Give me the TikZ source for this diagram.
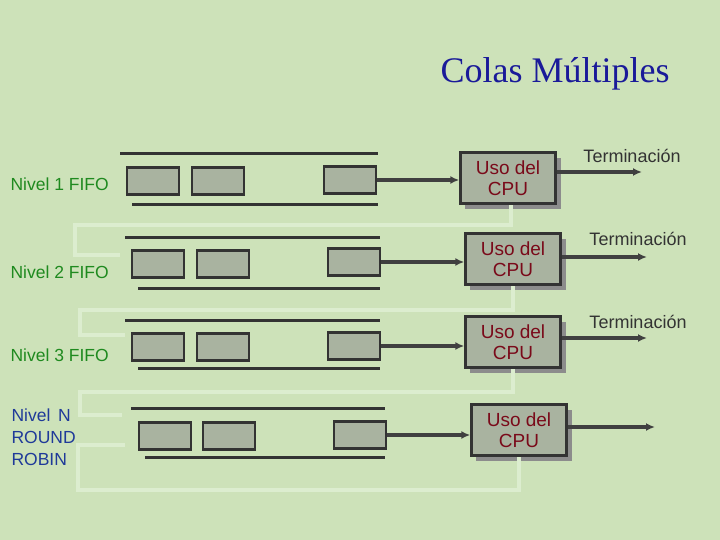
\documentclass[tikz,border=0pt]{standalone}
\usepackage{fontspec}
\setmainfont{Liberation Serif}
\setsansfont{Liberation Sans}
\usetikzlibrary{arrows.meta}
\definecolor{bg}{HTML}{CDE2B9}
\definecolor{boxfill}{HTML}{A9B3A0}
\definecolor{fb}{HTML}{DCEDCF}
\definecolor{titleblue}{HTML}{1A1A99}
\definecolor{lvgreen}{HTML}{1F8A1F}
\definecolor{lvblue}{HTML}{1F3A99}
\definecolor{cpured}{HTML}{7A0A1A}
\tikzset{
 rail/.style={line width=3pt,draw=black!80},
 item/.style={draw=black!80,line width=2.4pt,fill=boxfill,minimum width=52pt,minimum height=27pt,inner sep=0pt},
 cpu/.style={draw=black!80,line width=2.4pt,fill=boxfill,minimum width=95pt,minimum height=51pt,align=center,font=\sffamily\fontsize{19}{21}\selectfont,text=cpured},
 shadow/.style={fill=black!45,draw=none},
 flow/.style={line width=3.2pt,draw=black!75,-{Latex[length=9pt,width=8pt]}},
 back/.style={line width=4pt,draw=fb},
 lvl/.style={font=\sffamily\fontsize{17.5}{22}\selectfont,anchor=west,align=left},
 term/.style={font=\sffamily\fontsize{18}{20}\selectfont,text=black!80}
}
\begin{document}
\begin{tikzpicture}[x=1pt,y=-1pt]
\fill[bg] (0,0) rectangle (720,540);
\useasboundingbox (0,0) rectangle (720,540);
\node[font=\fontsize{36}{40}\selectfont,text=titleblue] (title) at (555,74) {Colas Múltiples};
% feedback paths
\coordinate (f1a) at (511,225); \coordinate (f1b) at (75,225); \coordinate (f1c) at (75,255); \coordinate (f1d) at (120,255);
\coordinate (f2b) at (80,310); \coordinate (f2c) at (80,335); \coordinate (f2d) at (125,335);
\coordinate (f3b) at (80,392); \coordinate (f3c) at (80,415); \coordinate (f3d) at (122,415);
\coordinate (f4b) at (78,490); \coordinate (f4c) at (78,445); \coordinate (f4d) at (125,445);
% rows
\foreach \xo/\ty/\by/\bx/\rx in {0/154/205/132/378, 5/237/288/138/380, 5/320/368/138/380, 11/408/457/145/385}{
  \draw[rail] (120+\xo,\ty) -- (\rx,\ty);
  \draw[rail] (\bx,\by) -- (\rx,\by);
}
\foreach \n/\x/\y in {a1/153/181,b1/218/181,c1/350/180, a2/158/264,b2/223/264,c2/354/262, a3/158/347,b3/223/347,c3/354/346, a4/165/436,b4/229/436,c4/360/435}{
  \node[item] (\n) at (\x,\y) {};
}
\foreach \x/\y in {508/178,513/259,513/342,519/430}{
  \fill[shadow] (\x-43,\y-20) rectangle (\x+53,\y+31);
}
\draw[back] (511,203) -- (f1a) -- (f1b) -- (f1c) -- (f1d);
\draw[back] (513,284) -- (513,310) -- (f2b) -- (f2c) -- (f2d);
\draw[back] (513,367) -- (513,392) -- (f3b) -- (f3c) -- (f3d);
\draw[back] (519,455) -- (519,490) -- (f4b) -- (f4c) -- (f4d);
\node[cpu] (p1) at (508,178) {Uso del\\CPU};
\node[cpu] (p2) at (513,259) {Uso del\\CPU};
\node[cpu] (p3) at (513,342) {Uso del\\CPU};
\node[cpu] (p4) at (519,430) {Uso del\\CPU};
\draw[flow] (c1.east) -- (p1.west |- c1.east);
\draw[flow] (c2.east) -- (p2.west |- c2.east);
\draw[flow] (c3.east) -- (p3.west |- c3.east);
\draw[flow] (c4.east) -- (p4.west |- c4.east);
\coordinate (e1) at (642,172); \coordinate (e2) at (647,257); \coordinate (e3) at (647,338); \coordinate (e4) at (655,427);
\draw[flow] (p1.east |- e1) -- (e1);
\draw[flow] (p2.east |- e2) -- (e2);
\draw[flow] (p3.east |- e3) -- (e3);
\draw[flow] (p4.east |- e4) -- (e4);
\node[term] (t1) at (632,156) {Terminación};
\node[term] (t2) at (638,239) {Terminación};
\node[term] (t3) at (638,322) {Terminación};
\node[lvl,text=lvgreen] (l1) at (7,184) {Nivel 1 FIFO};
\node[lvl,text=lvgreen] (l2) at (7,272) {Nivel 2 FIFO};
\node[lvl,text=lvgreen] (l3) at (7,355) {Nivel 3 FIFO};
\node[lvl,text=lvblue] (l4) at (8,437) {Nivel\, N\\ROUND\\ROBIN};
\end{tikzpicture}
\end{document}
